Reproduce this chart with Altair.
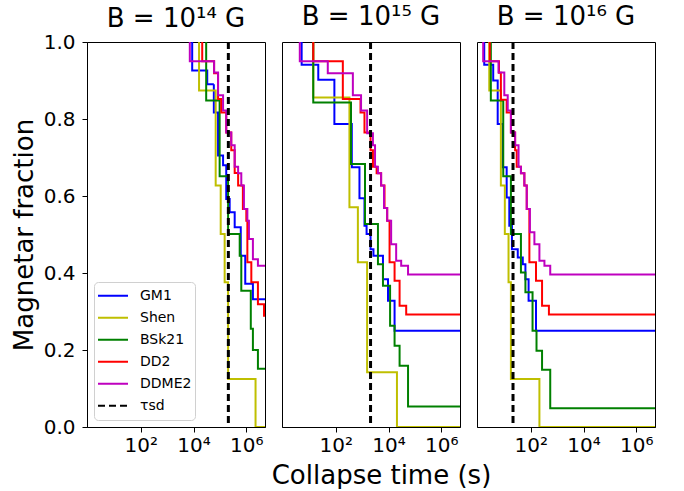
import altair as alt
import pandas as pd

EOS = ["GM1", "Shen", "BSk21", "DD2", "DDME2"]
COLORS = ["#0000ff", "#bfbf00", "#008000", "#ff0000", "#bf00bf"]
TAU = "τsd"
PANEL_TITLES = ["B = 10¹⁴ G", "B = 10¹⁵ G", "B = 10¹⁶ G"]
# log10 of the spin-down time (s) per panel
TAU_SD_LOGT = [5.32, 3.32, 1.33]

# ---- B = 1e14 G : log10 collapse time (s) of each step, magnetar fraction after the step
B14_GM1_LOGT = [3.95, 4.52, 4.77, 4.93, 5.12, 5.24, 5.37, 5.56, 5.79, 5.96, 6.25, 6.95]
B14_GM1_FRAC = [0.926, 0.89, 0.817, 0.705, 0.68, 0.592, 0.558, 0.519, 0.445, 0.372, 0.332, 0.25]
B14_SHEN_LOGT = [4.21, 4.84, 5.03, 5.18, 5.31, 6.35]
B14_SHEN_FRAC = [0.874, 0.627, 0.501, 0.376, 0.125, 0.0]
B14_BSK21_LOGT = [4.48, 4.99, 5.31, 5.75, 5.81, 6.17, 6.25, 6.44, 7.0]
B14_BSK21_FRAC = [0.848, 0.651, 0.501, 0.445, 0.354, 0.255, 0.20, 0.151, 0.05]
B14_DD2_LOGT = [4.33, 4.78, 4.93, 5.05, 5.24, 5.43, 5.56, 5.69, 5.87, 6.00, 6.04, 6.19, 6.44, 6.67]
B14_DD2_FRAC = [0.95, 0.919, 0.852, 0.817, 0.765, 0.719, 0.66, 0.627, 0.566, 0.536, 0.428, 0.376, 0.319, 0.289]
B14_DDME2_LOGT = [3.86, 4.78, 4.93, 5.12, 5.24, 5.43, 5.56, 5.69, 5.81, 5.91, 6.04, 6.10, 6.25, 6.44, 6.95]
B14_DDME2_FRAC = [0.95, 0.921, 0.862, 0.822, 0.765, 0.732, 0.676, 0.659, 0.627, 0.566, 0.536, 0.488, 0.436, 0.419, 0.396]

# ---- B = 1e15 G
B15_GM1_LOGT = [0.71, 1.34, 1.95, 2.61, 2.90, 3.09, 3.17, 3.32, 3.43, 3.79, 3.98, 4.23]
B15_GM1_FRAC = [0.941, 0.902, 0.787, 0.675, 0.594, 0.523, 0.501, 0.462, 0.445, 0.384, 0.328, 0.25]
B15_SHEN_LOGT = [1.15, 2.52, 2.84, 3.19, 4.32]
B15_SHEN_FRAC = [0.856, 0.571, 0.428, 0.142, 0.0]
B15_BSK21_LOGT = [1.15, 2.58, 3.11, 3.60, 3.79, 4.06, 4.23, 4.42, 4.74]
B15_BSK21_FRAC = [0.843, 0.683, 0.527, 0.423, 0.367, 0.263, 0.211, 0.159, 0.053]
B15_DD2_LOGT = [1.15, 2.27, 2.94, 3.09, 3.32, 3.41, 3.55, 3.72, 3.85, 3.95, 4.04, 4.23, 4.42, 4.67]
B15_DD2_FRAC = [0.95, 0.852, 0.817, 0.765, 0.719, 0.676, 0.659, 0.627, 0.569, 0.536, 0.428, 0.38, 0.315, 0.292]
B15_DDME2_LOGT = [0.64, 1.70, 2.65, 2.96, 3.19, 3.41, 3.49, 3.60, 3.72, 3.83, 3.95, 4.10, 4.29, 4.48, 4.74]
B15_DDME2_FRAC = [0.95, 0.919, 0.862, 0.822, 0.763, 0.732, 0.676, 0.659, 0.627, 0.569, 0.536, 0.475, 0.432, 0.419, 0.396]

# ---- B = 1e16 G
B16_GM1_LOGT = [0.24, 0.58, 0.75, 0.94, 1.09, 1.19, 1.29, 1.51, 1.70, 1.80, 1.92, 2.20]
B16_GM1_FRAC = [0.941, 0.90, 0.787, 0.675, 0.596, 0.523, 0.462, 0.44, 0.423, 0.384, 0.328, 0.25]
B16_SHEN_LOGT = [0.43, 0.87, 1.02, 1.16, 1.25, 2.33]
B16_SHEN_FRAC = [0.874, 0.627, 0.501, 0.376, 0.125, 0.0]
B16_BSK21_LOGT = [0.49, 0.96, 1.25, 1.63, 1.80, 2.07, 2.22, 2.43, 2.74]
B16_BSK21_FRAC = [0.848, 0.651, 0.501, 0.401, 0.35, 0.25, 0.198, 0.149, 0.049]
B16_DD2_LOGT = [0.45, 0.80, 0.87, 1.09, 1.25, 1.41, 1.47, 1.63, 1.76, 1.85, 1.95, 2.20, 2.43, 2.69]
B16_DD2_FRAC = [0.95, 0.92, 0.85, 0.817, 0.765, 0.719, 0.676, 0.659, 0.627, 0.566, 0.428, 0.38, 0.315, 0.292]
B16_DDME2_LOGT = [0.20, 0.78, 1.00, 1.13, 1.25, 1.41, 1.54, 1.63, 1.76, 1.85, 1.97, 2.14, 2.33, 2.52, 2.74]
B16_DDME2_FRAC = [0.95, 0.921, 0.862, 0.822, 0.765, 0.732, 0.676, 0.659, 0.627, 0.566, 0.506, 0.475, 0.432, 0.419, 0.396]

PANELS = [
    {"GM1": (B14_GM1_LOGT, B14_GM1_FRAC), "Shen": (B14_SHEN_LOGT, B14_SHEN_FRAC),
     "BSk21": (B14_BSK21_LOGT, B14_BSK21_FRAC), "DD2": (B14_DD2_LOGT, B14_DD2_FRAC),
     "DDME2": (B14_DDME2_LOGT, B14_DDME2_FRAC)},
    {"GM1": (B15_GM1_LOGT, B15_GM1_FRAC), "Shen": (B15_SHEN_LOGT, B15_SHEN_FRAC),
     "BSk21": (B15_BSK21_LOGT, B15_BSK21_FRAC), "DD2": (B15_DD2_LOGT, B15_DD2_FRAC),
     "DDME2": (B15_DDME2_LOGT, B15_DDME2_FRAC)},
    {"GM1": (B16_GM1_LOGT, B16_GM1_FRAC), "Shen": (B16_SHEN_LOGT, B16_SHEN_FRAC),
     "BSk21": (B16_BSK21_LOGT, B16_BSK21_FRAC), "DD2": (B16_DD2_LOGT, B16_DD2_FRAC),
     "DDME2": (B16_DDME2_LOGT, B16_DDME2_FRAC)},
]

X_DOMAIN = [10 ** -0.034, 10 ** 6.708]
X_END = 1e9
FONT = "DejaVu Sans"

DOMAIN = EOS + [TAU]
color_scale = alt.Scale(domain=DOMAIN, range=COLORS + ["black"])
dash_scale = alt.Scale(domain=DOMAIN, range=[[1, 0]] * 5 + [[7, 4]])


def curve_rows(panel):
    rows = []
    for eos in EOS:
        logt, frac = panel[eos]
        rows.append({"eos": eos, "i": 0, "t": 10 ** logt[0], "frac": 1.0})
        for k, (lt, f) in enumerate(zip(logt, frac)):
            rows.append({"eos": eos, "i": k + 1, "t": 10 ** lt, "frac": f})
        rows.append({"eos": eos, "i": len(logt) + 1, "t": X_END, "frac": frac[-1]})
    return pd.DataFrame(rows)


def make_panel(p):
    df = curve_rows(PANELS[p])
    tau_df = pd.DataFrame({"eos": [TAU], "t": [10 ** TAU_SD_LOGT[p]]})
    if p == 0:
        legend = alt.Legend(
            title=None, orient="bottom-left", offset=7, symbolType="stroke",
            symbolSize=900, symbolStrokeWidth=2, labelFontSize=14, labelFont=FONT,
            strokeColor="#d0d0d0", fillColor="white", padding=3, cornerRadius=4,
            rowPadding=0, labelOffset=11, clipHeight=21.6,
        )
        yaxis = alt.Axis(values=[0, 0.2, 0.4, 0.6, 0.8, 1.0], format=".1f",
                         title="Magnetar fraction", titlePadding=6, labelPadding=7)
        title_offset = 0
    else:
        legend = None
        yaxis = None
        title_offset = 11
    xtitle = "Collapse time (s)" if p == 1 else None
    xaxis = alt.Axis(
        values=[1e2, 1e4, 1e6], title=xtitle, titlePadding=7, labelPadding=3,
        titleX=99, titleFontSize=26,
        labelExpr="datum.value < 1e3 ? '10²' : datum.value < 1e5 ? '10⁴' : '10⁶'",
    )
    x = alt.X("t:Q", scale=alt.Scale(type="log", domain=X_DOMAIN), axis=xaxis)
    y = alt.Y("frac:Q", scale=alt.Scale(domain=[0, 1]), axis=yaxis)
    color = alt.Color("eos:N", scale=color_scale, legend=legend)
    dash = alt.StrokeDash("eos:N", scale=dash_scale, legend=legend)

    lines = alt.Chart(df).mark_line(interpolate="step-after", strokeWidth=2, clip=True).encode(
        x=x, y=y, color=color, strokeDash=dash, order=alt.Order("i:Q")
    )
    tau = alt.Chart(tau_df).mark_rule(strokeWidth=3).encode(
        x=alt.X("t:Q", scale=alt.Scale(type="log", domain=X_DOMAIN)),
        color=color, strokeDash=dash,
    )
    return alt.layer(lines, tau).properties(
        width=178, height=385,
        title=alt.Title(PANEL_TITLES[p], fontSize=26, font=FONT, fontWeight="normal",
                        offset=title_offset),
    )


chart = alt.hconcat(
    make_panel(0), make_panel(1), make_panel(2), spacing=17, bounds="flush"
).resolve_scale(
    color="independent", strokeDash="independent"
).resolve_legend(
    color="independent", strokeDash="independent"
).properties(
    padding={"left": 10, "top": 3, "right": 5, "bottom": 0}
).configure(
    font=FONT
).configure_view(
    stroke="black", strokeWidth=1
).configure_axis(
    grid=False, domainColor="black", tickColor="black", tickSize=5,
    labelFontSize=20, titleFontSize=26, labelColor="black", titleColor="black",
    labelFont=FONT, titleFont=FONT, titleFontWeight="normal",
).configure_title(color="black")

chart.save("out.html", embed_options={"renderer": "svg", "actions": False})
